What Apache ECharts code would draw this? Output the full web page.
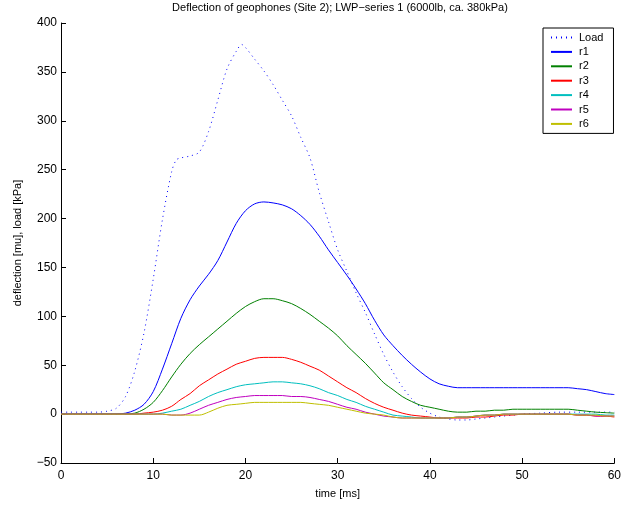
<!DOCTYPE html>
<html>
<head>
<meta charset="utf-8">
<script src="https://cdn.jsdelivr.net/npm/echarts@6/dist/echarts.min.js"></script>
<style>
html,body{margin:0;padding:0;background:#fff;}
#chart{width:624px;height:507px;}
</style>
</head>
<body>
<div id="chart"></div>
<script>
var titleText = 'Deflection of geophones (Site 2); LWP\u2212series 1 (6000lb, ca. 380kPa)';
var seriesNames = ['Load', 'r1', 'r2', 'r3', 'r4', 'r5', 'r6'];
var seriesColors = ['#0000ff', '#0000ff', '#008000', '#ff0000', '#00bfbf', '#bf00bf', '#bfbf00'];
var xTicks = [0, 10, 20, 30, 40, 50, 60];
var yTicks = [-50, 0, 50, 100, 150, 200, 250, 300, 350, 400];

var loadTime = [0,1,2,3,4,5,6,7,8,9,10,11,12,12.5,13,14,15,16,17,18,19,19.6,
  20,21,22,23,24,25,26,27,28,29,30,31,32,33,34,35,36,37,38,39,40,41,42,43,44,45,46,47,48,49,50,
  52,54,56,58,60];
var loadVals = [2,2,2,2,2,3,6,18,44,83,138,199,248,260,262,264,268,289,321,353,371,378,
  375,363,351,337,321,305,283,262,227,197,168,146,124,104,82,61,43,28,16,7,1,-3,-5,-6,-6,-5,-4,-3,-2,-1,0,
  1,2,2,2,2];

var rTime = [0,1,2,3,4,5,6,7,8,9,10,11,12,13,14,15,16,17,18,19,20,21,22,23,24,25,26,27,28,29,30,
  31,32,33,34,35,36,37,38,39,40,41,42,43,44,45,46,47,48,49,50,51,52,53,54,55,56,57,58,59,60];
var r1 = [0,0,0,0,0,0,0,1,4,10,23,46,72,98,117,131,143,157,176,195,208,215,217,216,214,210,203,194,182,168,155,
  142,128,113,96,81,70,60,51,43,36,31,28.5,27,27,27,27,27,27,27,27,27,27,27,27,27,26,25,23,21,20];
var r2 = [0,0,0,0,0,0,0,0,1,5,12,24,38,51,62,71,79,87,95,103,110,115,118,118,116,113,108,102,95,88,80,
  70,61,52,42,32,25,18,13,9,7,5,3,2,2,3,3,4,4,5,5,5,5,5,5,5,4,3,2,1.5,1];
var r3 = [0,0,0,0,0,0,0,0,0,1,2,4,8,15,21,29,35,41,46,51,54,57,58,58,58,56,53,49,45,39,33,
  27,22,16,11,7,4,1,-1,-2,-3,-4,-4,-4,-4,-3,-3,-2,-1,-1,0,0,0,0,0,0,-1,-1,-2,-2,-3];
var r4 = [0,0,0,0,0,0,0,0,0,0,0,1,3,5,9,13,18,22,25,28,30,31,32,33,33,32,31,29,26,22,19,
  15,12,8,5,2,-1,-2,-3,-4,-4,-4,-4,-3,-3,-2,-1,-1,0,0,0,0,0,0,0,0,0,0,0,-1,-1];
var r5 = [0,0,0,0,0,0,0,0,0,0,0,0,-1,-1,1,5,9,12,15,17,18,19,19,19,19,18,18,17,15,13,10,
  7,5,2,0,-2,-3,-4,-4,-4,-4,-4,-4,-3,-3,-2,-1,-1,0,0,0,0,0,0,0,0,-1,-1,-2,-2,-2];
var r6 = [0,0,0,0,0,0,0,0,0,0,0,0,-1,-1,-1,-1,2,6,9,10,11,12,12,12,12,12,12,11,10,9,7,
  5,3,1,0,-1,-3,-4,-4,-4,-4,-4,-4,-3,-3,-2,-1,-1,0,0,0,0,0,0,0,0,-1,-1,-1,-2,-2];

function pairs(t, v) { return t.map(function (x, i) { return [x, v[i]]; }); }
var allData = [pairs(loadTime, loadVals), pairs(rTime, r1), pairs(rTime, r2), pairs(rTime, r3),
  pairs(rTime, r4), pairs(rTime, r5), pairs(rTime, r6)];

var FONT = 'Liberation Sans, Arial, Helvetica, sans-serif';
function minus(v) { return String(v).replace('-', '\u2212'); }

var chart = echarts.init(document.getElementById('chart'), null, { renderer: 'canvas' });
chart.setOption({
  animation: false,
  backgroundColor: '#ffffff',
  title: {
    text: titleText, left: 340, textAlign: 'center', top: 2, padding: 0,
    textStyle: { fontFamily: FONT, fontSize: 11, fontWeight: 'normal', color: '#000' }
  },
  grid: { left: 61, right: 5, top: 23, bottom: 44, containLabel: false },
  legend: {
    orient: 'vertical', left: 543, top: 28,
    padding: [4, 10, 4, 7],
    itemWidth: 21, itemHeight: 11, itemGap: 3.4,
    borderColor: '#000', borderWidth: 1, backgroundColor: '#fff', borderRadius: 0,
    itemStyle: { color: 'rgba(0,0,0,0)', borderWidth: 0, opacity: 0 },
    textStyle: { fontFamily: FONT, fontSize: 11, color: '#000', padding: [0, 0, 0, 2] },
    data: seriesNames
  },
  xAxis: {
    type: 'value', min: xTicks[0], max: xTicks[xTicks.length - 1], interval: 10,
    name: 'time [ms]', nameLocation: 'middle', nameGap: 25,
    nameTextStyle: { fontFamily: FONT, fontSize: 11, color: '#000' },
    axisLine: { show: true, onZero: false, lineStyle: { color: '#000', width: 1 } },
    axisTick: { show: true, inside: true, length: 5, lineStyle: { color: '#000' } },
    axisLabel: { fontFamily: FONT, fontSize: 12, color: '#000', margin: 7, formatter: minus },
    splitLine: { show: false }
  },
  yAxis: {
    type: 'value', min: yTicks[0], max: yTicks[yTicks.length - 1], interval: 50,
    name: 'deflection [mu], load [kPa]', nameLocation: 'middle', nameGap: 38, nameRotate: 90,
    nameTextStyle: { fontFamily: FONT, fontSize: 11, color: '#000' },
    axisLine: { show: true, onZero: false, lineStyle: { color: '#000', width: 1 } },
    axisTick: { show: true, inside: true, length: 5, lineStyle: { color: '#000' } },
    axisLabel: { fontFamily: FONT, fontSize: 12, color: '#000', margin: 4, formatter: minus },
    splitLine: { show: false }
  },
  series: seriesNames.map(function (name, i) {
    return {
      name: name, type: 'line', data: allData[i],
      symbol: 'none', showSymbol: false,
      smooth: 0.3,
      color: seriesColors[i],
      lineStyle: { color: seriesColors[i], width: 1, type: i === 0 ? [1, 4] : 'solid' },
      z: 2 + i
    };
  })
});
</script>
</body>
</html>
